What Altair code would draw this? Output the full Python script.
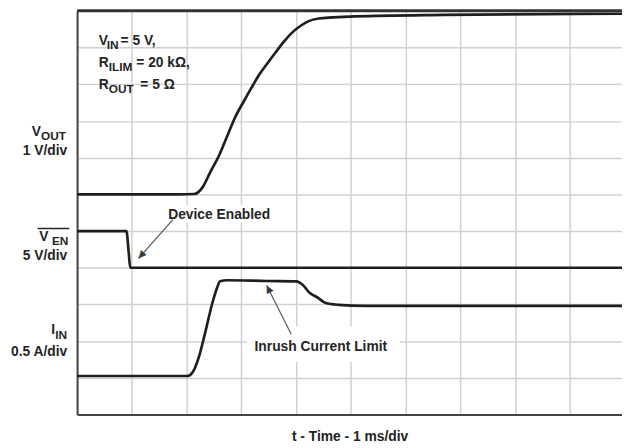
import math
import altair as alt
import pandas as pd

# ---- traces (units: divisions; x = 1 ms/div, y = screen divisions) ----
vout_t = [0.0, 1.84, 2.14, 2.29, 2.43, 2.59, 2.74, 2.88, 3.05, 3.19, 3.33, 3.50,
          3.64, 3.78, 3.95, 4.09, 4.23, 4.41, 4.67, 5.08, 6.70, 9.95]
vout_v = [6.0, 6.0, 6.01, 6.19, 6.60, 7.05, 7.58, 8.08, 8.55, 8.92, 9.27, 9.62,
          9.90, 10.17, 10.44, 10.60, 10.72, 10.79, 10.82, 10.85, 10.89, 10.92]

ven_t = [0.0, 0.90, 0.94, 0.97, 9.95]
ven_v = [5.0, 5.0, 4.46, 4.0, 4.0]

iin_t = [0.0, 2.02, 2.11, 2.23, 2.34, 2.47, 2.56, 2.61, 2.74, 3.46, 4.00, 4.13,
         4.23, 4.40, 4.54, 4.77, 5.26, 9.95]
iin_v = [1.05, 1.05, 1.15, 1.60, 2.24, 3.04, 3.47, 3.63, 3.66, 3.64, 3.63, 3.52,
         3.34, 3.18, 3.04, 2.99, 2.96, 2.96]

# ---- text annotations (text, x, y, font size) ----
left_texts = [
    ("V", 0.396, 10.07, 14), ("IN", 0.54, 9.96, 12), ("= 5 V,", 0.793, 10.07, 14),
    ("R", 0.396, 9.48, 14), ("ILIM", 0.577, 9.37, 12), ("= 20 kΩ,", 1.081, 9.48, 14),
    ("R", 0.396, 8.865, 14), ("OUT", 0.577, 8.758, 12), ("= 5 Ω", 1.153, 8.865, 14),
    ("V", -0.83, 7.58, 14), ("OUT", -0.66, 7.48, 12),
    ("V", -0.69, 4.73, 14), ("EN", -0.46, 4.63, 12),
    ("I", -0.47, 2.19, 14), ("IN", -0.40, 2.056, 12),
]
right_texts = [
    ("1 V/div", -0.18, 7.08, 14),
    ("5 V/div", -0.18, 4.21, 14),
    ("0.5 A/div", -0.18, 1.60, 14),
]
center_texts = [
    ("Device Enabled", 2.595, 5.34, 14),
    ("Inrush Current Limit", 4.45, 1.736, 14),
]
label_boxes = [(1.57, 3.64, 5.23, 5.71), (3.10, 5.89, 1.44, 2.40)]
overline = [(-0.72, -0.144, 5.07)]
arrows = [  # start x, start y, tip x, tip y
    (1.748, 5.314, 1.117, 4.246),
    (3.91, 2.19, 3.46, 3.525),
]

FONT = "Liberation Sans"
W, H = 552, 409
XMAX, YMAX = 9.95, 11
kx, ky = W / XMAX, H / YMAX

traces = pd.DataFrame({
    "x": vout_t + ven_t + iin_t,
    "y": vout_v + ven_v + iin_v,
    "s": ["VOUT"] * len(vout_t) + ["VEN"] * len(ven_t) + ["IIN"] * len(iin_t),
})

xs = alt.Scale(domain=[0, XMAX], nice=False, zero=False)
ys = alt.Scale(domain=[0, YMAX], nice=False, zero=False)

x_axis = alt.Axis(values=list(range(10)), grid=True, labels=False, ticks=False,
                  domain=True, domainColor="#444", domainWidth=2,
                  gridColor="#d0d0d0", gridWidth=1.5,
                  title="t - Time - 1 ms/div", titleFont=FONT, titleFontSize=14,
                  titleFontWeight="bold", titleColor="#222", titlePadding=15)
y_axis = alt.Axis(values=list(range(12)), grid=True, labels=False, ticks=False,
                  domain=True, domainColor="#444", domainWidth=2,
                  gridColor="#d0d0d0", gridWidth=1.5, title="")

X = alt.X("x:Q", scale=xs, axis=x_axis)
Y = alt.Y("y:Q", scale=ys, axis=y_axis)

lines = alt.Chart(traces).mark_line(color="#1e1e1e", strokeWidth=2.7,
                                    interpolate="monotone").encode(
    x=X, y=Y, detail="s:N")

top_df = pd.DataFrame({"x": [0.0], "x2": [XMAX], "y": [YMAX]})
top_border = alt.Chart(top_df).mark_rule(color="#333", strokeWidth=3).encode(
    x=X, x2="x2:Q", y=Y)

box_df = pd.DataFrame(label_boxes, columns=["x", "x2", "y", "y2"])
boxes = alt.Chart(box_df).mark_rect(color="white").encode(
    x=X, x2="x2:Q", y=Y, y2="y2:Q")


def text_layer(rows, align):
    df = pd.DataFrame(rows, columns=["text", "x", "y", "size"])
    return alt.Chart(df).mark_text(align=align, baseline="alphabetic", font=FONT,
                                   fontWeight="bold", color="#252525").encode(
        x=X, y=Y, text="text:N", size=alt.Size("size:Q", scale=None))


ol_df = pd.DataFrame(overline, columns=["x", "x2", "y"])
ol = alt.Chart(ol_df).mark_rule(color="#252525", strokeWidth=1.6).encode(
    x=X, x2="x2:Q", y=Y)

arr_df = pd.DataFrame(arrows, columns=["x", "y", "x2", "y2"])
arrow_lines = alt.Chart(arr_df).mark_rule(color="#555", strokeWidth=1.2).encode(
    x=X, x2="x2:Q", y=Y, y2="y2:Q")

heads = []
for sx, sy, tx, ty in arrows:
    dxp, dyp = (tx - sx) * kx, -(ty - sy) * ky  # pixel direction (screen y down)
    L = math.hypot(dxp, dyp)
    ux, uy = dxp / L, dyp / L
    ang = math.degrees(math.atan2(ux, -uy)) % 360
    cx = tx - 4.0 * ux / kx
    cy = ty + 4.0 * uy / ky
    heads.append((cx, cy, ang, "▲"))
head_df = pd.DataFrame(heads, columns=["x", "y", "angle", "glyph"])
arrow_heads = alt.Chart(head_df).mark_text(
    font="DejaVu Sans", fontSize=10, color="#3a3a3a", align="center",
    baseline="middle").encode(
    x=X, y=Y, text="glyph:N", angle=alt.Angle("angle:Q", scale=None))

chart = alt.layer(
    lines, top_border, boxes,
    text_layer(left_texts, "left"), text_layer(right_texts, "right"),
    text_layer(center_texts, "center"),
    ol, arrow_lines, arrow_heads,
).properties(
    width=W, height=H,
    padding={"left": 70, "top": 0, "right": 0, "bottom": 31},
    autosize=alt.AutoSizeParams(type="none"),
).configure_view(stroke="transparent")

chart.save("out.html", embed_options={"renderer": "svg", "actions": False})
